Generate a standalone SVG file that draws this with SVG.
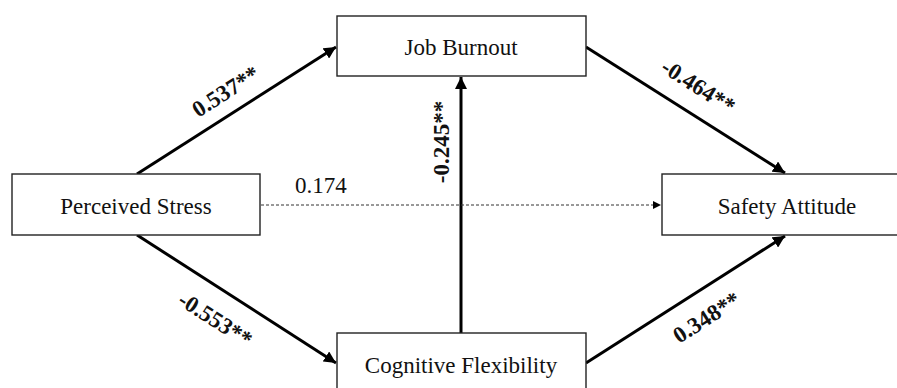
<svg xmlns="http://www.w3.org/2000/svg" width="897" height="388" viewBox="0 0 897 388">
<style>
.box{fill:#fff;stroke:#222;stroke-width:1.4}
.nt{font-family:"Liberation Serif","Times New Roman",serif;font-size:23px;fill:#111;text-anchor:middle}
.el{font-family:"Liberation Serif","Times New Roman",serif;font-size:23px;font-weight:bold;fill:#111;text-anchor:middle}
.nl{font-family:"Liberation Serif","Times New Roman",serif;font-size:23px;fill:#111}
.solid{stroke:#000;stroke-width:3;fill:none}
.dash{stroke:#333;stroke-width:1;stroke-dasharray:3 2;fill:none}
</style>
<defs>
<marker id="ah" viewBox="0 0 10 10" refX="10" refY="5" markerWidth="4" markerHeight="4" markerUnits="strokeWidth" orient="auto">
<path d="M0,0 L10,5 L0,10 z" fill="#000"/>
</marker>
<marker id="ahs" viewBox="0 0 10 10" refX="10" refY="5" markerWidth="8" markerHeight="8" markerUnits="strokeWidth" orient="auto">
<path d="M0,0 L10,5 L0,10 z" fill="#000"/>
</marker>
</defs>
<g id="connectors">
<line class="solid" x1="137" y1="174" x2="336" y2="47" marker-end="url(#ah)"/>
<line class="solid" x1="586" y1="47" x2="785" y2="173" marker-end="url(#ah)"/>
<line class="solid" x1="137" y1="235" x2="336" y2="363" marker-end="url(#ah)"/>
<line class="solid" x1="586" y1="363" x2="785" y2="236" marker-end="url(#ah)"/>
<line class="solid" x1="461" y1="333" x2="461" y2="77" marker-end="url(#ah)"/>
<line class="dash" x1="261" y1="205" x2="661" y2="205" marker-end="url(#ahs)"/>
<text class="el" transform="translate(226,92) rotate(-32.4)" x="0" y="7">0.537**</text>
<text class="el" transform="translate(698,87) rotate(32.5)" x="0" y="7">-0.464**</text>
<text class="el" transform="translate(215,320) rotate(32.6)" x="0" y="7">-0.553**</text>
<text class="el" transform="translate(707,318) rotate(-32.7)" x="0" y="7">0.348**</text>
<text class="el" transform="translate(442,142) rotate(-90)" x="0" y="7">-0.245**</text>
<text class="nl" x="295" y="193">0.174</text>
</g>
<g id="job-burnout">
<rect class="box" x="337" y="16" width="249" height="60"/>
<text class="nt" x="461" y="55">Job Burnout</text>
</g>
<g id="perceived-stress">
<rect class="box" x="12" y="174" width="248" height="61"/>
<text class="nt" x="136" y="214">Perceived Stress</text>
</g>
<g id="safety-attitude">
<rect class="box" x="662" y="174" width="250" height="61"/>
<text class="nt" x="787" y="214">Safety Attitude</text>
</g>
<g id="cognitive-flexibility">
<rect class="box" x="337" y="333" width="249" height="61"/>
<text class="nt" x="461" y="373">Cognitive Flexibility</text>
</g>
</svg>
